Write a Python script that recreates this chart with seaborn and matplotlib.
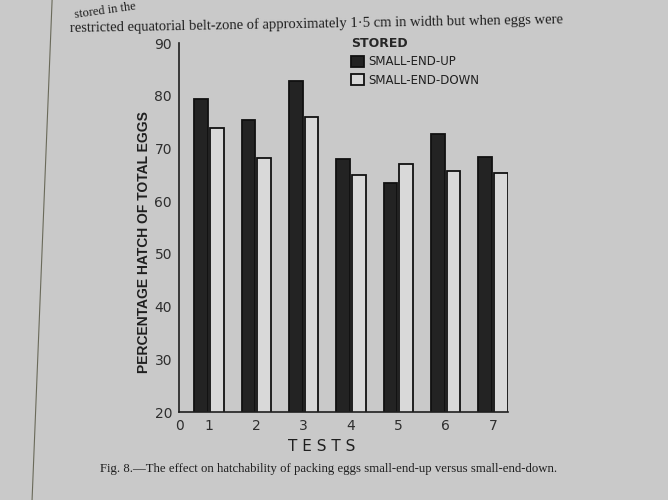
import matplotlib
matplotlib.use("Agg")
import matplotlib.pyplot as plt
from matplotlib.lines import Line2D
import seaborn as sns
import pandas as pd

# values
tests = [1, 2, 3, 4, 5, 6, 7]
small_end_up = [79.4, 75.4, 82.7, 67.9, 63.5, 72.8, 68.3]
small_end_down = [73.9, 68.1, 76.0, 65.0, 67.0, 65.8, 65.3]
series_names = ["SMALL-END-UP", "SMALL-END-DOWN"]
y_ticks = [20, 30, 40, 50, 60, 70, 80, 90]
x_tick_labels = ["0", "1", "2", "3", "4", "5", "6", "7"]

df = pd.DataFrame({
    "test": tests * 2,
    "hatch": small_end_up + small_end_down,
    "stored": [series_names[0]] * len(tests) + [series_names[1]] * len(tests),
})

page = "#c9c9c9"
ink = "#1f1f1f"
sns.set_style("white")
plt.rcParams["font.family"] = ["DejaVu Sans"]

fig = plt.figure(figsize=(6.68, 5.0), dpi=100, facecolor=page)
ax = fig.add_axes([0.268, 0.176, 0.4925, 0.738])
ax.set_facecolor(page)

sns.barplot(data=df, x="test", y="hatch", hue="stored", native_scale=True,
            palette={series_names[0]: "#232323", series_names[1]: "#d9d9d9"},
            width=0.66, gap=0.12, edgecolor="#111111", linewidth=1.3,
            ax=ax, legend=True)

# the origin "0" sits closer to test 1 than the other tick spacing in the original
ax.set_ylim(20, 90)
ax.set_xlim(0.366, 7.32)
ax.set_yticks(y_ticks)
ax.set_xticks([0.366] + tests)
ax.set_xticklabels(x_tick_labels)
ax.tick_params(axis="both", direction="out", length=3, width=1, colors=ink,
               labelsize=10, labelcolor="#2e2e2e", pad=2)
for s in ["top", "right"]:
    ax.spines[s].set_visible(False)
for s in ["left", "bottom"]:
    ax.spines[s].set_color(ink)
    ax.spines[s].set_linewidth(1.2)

ax.set_ylabel("PERCENTAGE HATCH OF TOTAL EGGS", fontsize=10, fontweight="bold",
              family=["Liberation Sans", "DejaVu Sans"], color=ink)
ax.yaxis.set_label_coords(-0.085, 0.46)
ax.set_xlabel("T E S T S", fontsize=11, color=ink)
ax.xaxis.set_label_coords(0.435, -0.072)

leg = ax.legend(title="STORED", loc="upper left", bbox_to_anchor=(0.49, 1.045),
                frameon=False, fontsize=8.5, title_fontsize=9,
                handlelength=1.1, handleheight=1.1, labelspacing=0.45,
                handletextpad=0.35, alignment="left")
leg.get_title().set_fontweight("bold")
for t in leg.get_texts():
    t.set_color(ink)

# surrounding page text and the book gutter
fig.text(0.11, 0.978, "stored in the", fontsize=9, family="Liberation Serif",
         color=ink, ha="left", va="center", rotation=8)
fig.text(0.105, 0.952, "restricted equatorial belt-zone of approximately 1·5 cm in width but when eggs were",
         fontsize=10.5, family="Liberation Serif", color=ink, ha="left", va="center", rotation=1)
fig.text(0.15, 0.062,
         "Fig. 8.—The effect on hatchability of packing eggs small-end-up versus small-end-down.",
         fontsize=9.2, family="Liberation Serif", color=ink, ha="left", va="center")
fig.add_artist(Line2D([0.078, 0.048], [1.0, 0.0], transform=fig.transFigure,
                      color="#6a6a5a", linewidth=0.8))

fig.savefig("out.png", dpi=100, facecolor=page)
